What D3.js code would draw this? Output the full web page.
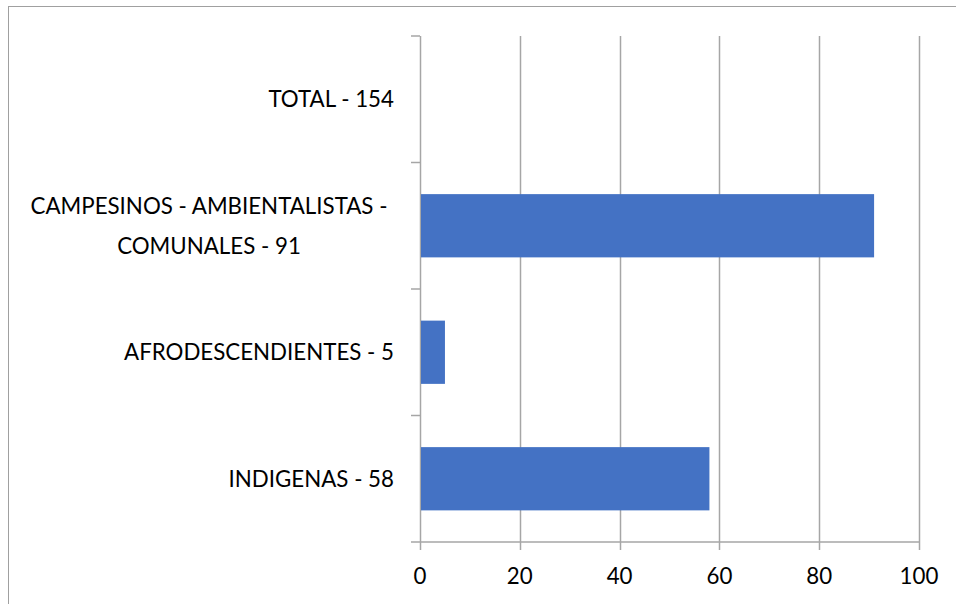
<!DOCTYPE html>
<html>
<head>
<meta charset="utf-8">
<script src="https://cdn.jsdelivr.net/npm/d3@7"></script>
<style>
  body { margin: 0; background: #fff; }
  svg { display: block; }
  text { font-family: Lato, Calibri, "Open Sans", sans-serif; fill: #000; }
</style>
</head>
<body>
<script>
'use strict';

// categories from top to bottom
let categories = ["TOTAL - 154", "CAMPESINOS - AMBIENTALISTAS - COMUNALES - 91", "AFRODESCENDIENTES - 5", "INDIGENAS - 58"];
let values = [null, 91, 5, 58];
let xTicks = [0, 20, 40, 60, 80, 100];

(function() {
  let width = 956, height = 604;
  let gridColor = "#a6a6a6";
  let fontSize = '22.3px';

  let svg = d3.select('body')
    .append('svg')
    .attr('width', width)
    .attr('height', height);

  // chart border (right and bottom edges fall outside the picture)
  svg.append('rect')
    .attr('x', 8.5)
    .attr('y', 6.5)
    .attr('width', 1000)
    .attr('height', 1000)
    .attr('fill', 'none')
    .attr('stroke', '#a0a0a0')
    .attr('stroke-width', 1);

  let xScale = d3.scaleLinear()
    .domain([0, 100])
    .range([420, 919]);

  let yScale = d3.scaleBand()
    .domain(categories)
    .range([36, 542])
    .paddingInner(0.5)
    .paddingOuter(0.25);

  // vertical gridlines
  svg.append('g')
    .selectAll('line')
    .data(xTicks)
    .enter()
    .append('line')
      .attr('x1', (d) => Math.round(xScale(d)) + 0.5)
      .attr('x2', (d) => Math.round(xScale(d)) + 0.5)
      .attr('y1', 36)
      .attr('y2', 550)
      .attr('stroke', gridColor)
      .attr('stroke-width', 1.5);

  // bottom axis line
  svg.append('line')
    .attr('x1', xScale(0))
    .attr('x2', xScale(100))
    .attr('y1', 542)
    .attr('y2', 542)
    .attr('stroke', gridColor)
    .attr('stroke-width', 1.5);

  // left tick marks at category boundaries
  let step = yScale.step();
  let bounds = d3.range(categories.length + 1).map((i) => 36 + i * step);
  svg.append('g')
    .selectAll('line')
    .data(bounds)
    .enter()
    .append('line')
      .attr('x1', 411)
      .attr('x2', xScale(0))
      .attr('y1', (d) => d)
      .attr('y2', (d) => d)
      .attr('stroke', gridColor)
      .attr('stroke-width', 1.5);

  // bars
  let rows = categories.map((c, i) => ({ cat: c, value: values[i] }));
  svg.append('g')
    .selectAll('rect')
    .data(rows.filter((d) => d.value != null))
    .enter()
    .append('rect')
      .attr('x', xScale(0) + 1)
      .attr('y', (d) => yScale(d.cat))
      .attr('width', (d) => xScale(d.value) - xScale(0) - 1)
      .attr('height', yScale.bandwidth())
      .attr('fill', '#4472C4');

  // x tick labels
  svg.append('g')
    .selectAll('text')
    .data(xTicks)
    .enter()
    .append('text')
      .attr('x', (d) => xScale(d))
      .attr('y', 584)
      .attr('text-anchor', 'middle')
      .style('font-size', fontSize)
      .text((d) => d);

  // category labels, wrapped like the original
  let labels = svg.append('g')
    .selectAll('text')
    .data(categories)
    .enter()
    .append('text')
      .style('font-size', fontSize);

  labels.each(function(d) {
    let el = d3.select(this);
    let lines = wrapText(d, 370, el);
    let lineH = 39.5;
    let cy = yScale(d) + yScale.bandwidth() / 2;
    let y0 = cy - (lines.length - 1) * lineH / 2 + 8;
    el.text(null);
    el.attr('text-anchor', lines.length > 1 ? 'middle' : 'end');
    lines.forEach((ln, i) => {
      el.append('tspan')
        .attr('x', lines.length > 1 ? 209 : 394)
        .attr('y', y0 + i * lineH)
        .text(ln);
    });
  });

  function wrapText(str, maxW, el) {
    let words = str.split(' ');
    let lines = [];
    let cur = '';
    words.forEach((w) => {
      let test = cur ? cur + ' ' + w : w;
      el.text(test);
      if (el.node().getComputedTextLength() > maxW && cur) {
        lines.push(cur);
        cur = w;
      } else {
        cur = test;
      }
    });
    lines.push(cur);
    return lines;
  }
})();
</script>
</body>
</html>
